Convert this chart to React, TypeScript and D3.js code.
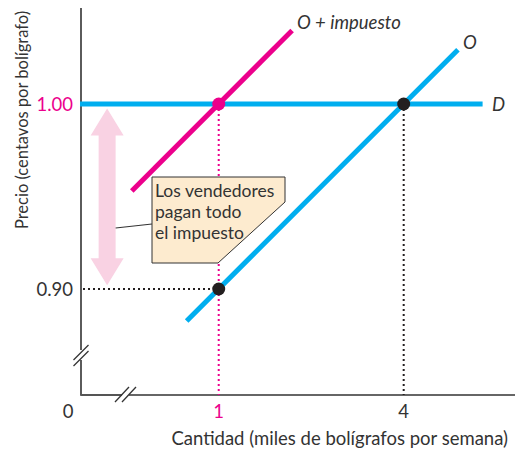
import React from "react";
import * as d3 from "d3";

// ---- data ----
const xTicks = [1, 4];
const xTickLabels = ["1", "4"];
const yTicks = [0.9, 1.0];
const yTickLabels = ["0.90", "1.00"];

// demand (horizontal at 1.00)
const demandQ = [-1.25, 5.28];
const demandP = [1.0, 1.0];
// supply O
const supplyQ = [0.48, 4.88];
const supplyP = [0.8827, 1.0293];
// supply + tax
const taxQ = [-0.41, 2.19];
const taxP = [0.953, 1.0397];

// equilibrium points
const pointQ = [1, 4, 1];
const pointP = [1.0, 1.0, 0.9];
const pointKind = ["tax", "orig", "orig"];

// tax arrow
const arrowQ = -0.81;
const arrowTop = 0.9975;
const arrowBottom = 0.902;

const CYAN = "#00AEEF";
const MAGENTA = "#EC008C";
const PINK = "#F9D2E3";
const DARK = "#231F20";
const TEXT = "#333333";
const FONT = "Lato, 'Open Sans', sans-serif";

export default function App() {
  const W = 516, H = 452;
  const left = 81, bottom = 395, right = 515, top = 8;
  const x = d3.scaleLinear().domain([-1.25, 5.4]).range([80, 490]);
  const y = d3.scaleLinear().domain([0.8427, 1.0535]).range([395, 5]);

  const line = (qs: number[], ps: number[]) =>
    d3.line<number>().x((d) => x(qs[d])).y((d) => y(ps[d]))(qs.map((_, i) => i)) as string;

  // arrow polygon
  const ax = x(arrowQ);
  const aT = y(arrowTop), aB = y(arrowBottom);
  const shaftHW = 8.5, headHW = 16.5, headL = 27;
  const arrowPts = [
    [ax, aT], [ax + headHW, aT + headL], [ax + shaftHW, aT + headL],
    [ax + shaftHW, aB - headL], [ax + headHW, aB - headL], [ax, aB],
    [ax - headHW, aB - headL], [ax - shaftHW, aB - headL], [ax - shaftHW, aT + headL],
    [ax - headHW, aT + headL],
  ].map((p) => p.join(",")).join(" ");

  // callout box
  const bx0 = 152, by0 = 177, bx1 = 285, by1 = 263;
  const boxPts = [[bx0, by0], [bx1, by0], [bx1, 202], [218, by1], [bx0, by1]]
    .map((p) => p.join(",")).join(" ");

  return (
    <svg width={W} height={H} style={{ position: "absolute", left: 0, top: 0, background: "#fff" }}
      fontFamily={FONT}>
      {/* axes */}
      <line x1={left} y1={top} x2={left} y2={350} stroke="#333" strokeWidth={1.6} />
      <line x1={left} y1={360} x2={left} y2={bottom} stroke="#333" strokeWidth={1.6} />
      <line x1={left - 0.8} y1={bottom} x2={122} y2={bottom} stroke="#555" strokeWidth={2} />
      <line x1={129} y1={bottom} x2={right} y2={bottom} stroke="#666" strokeWidth={2} />
      {/* break marks */}
      <line x1={73.5} y1={360} x2={88.5} y2={345} stroke="#333" strokeWidth={1.3} />
      <line x1={73.5} y1={366} x2={88.5} y2={351} stroke="#333" strokeWidth={1.3} />
      <line x1={115} y1={402} x2={129} y2={387} stroke="#333" strokeWidth={1.3} />
      <line x1={122} y1={402} x2={136} y2={387} stroke="#333" strokeWidth={1.3} />

      {/* guide dotted lines */}
      <line x1={x(1)} y1={y(1.0)} x2={x(1)} y2={bottom} stroke={MAGENTA} strokeWidth={2} strokeDasharray="2 3" />
      <line x1={x(4)} y1={y(1.0)} x2={x(4)} y2={bottom} stroke={DARK} strokeWidth={2} strokeDasharray="2 3" />
      <line x1={left + 2} y1={y(0.9)} x2={x(1)} y2={y(0.9)} stroke={DARK} strokeWidth={2} strokeDasharray="2 3" />

      {/* arrow */}
      <polygon points={arrowPts} fill={PINK} />

      {/* lines */}
      <path d={line(demandQ, demandP)} stroke={CYAN} strokeWidth={5} fill="none" />
      <path d={line(supplyQ, supplyP)} stroke={CYAN} strokeWidth={5} fill="none" />
      <path d={line(taxQ, taxP)} stroke={MAGENTA} strokeWidth={5} fill="none" />

      {/* points */}
      {pointQ.map((q, i) => (
        <circle key={i} cx={x(q)} cy={y(pointP[i])} r={6.5}
          fill={pointKind[i] === "tax" ? MAGENTA : DARK} />
      ))}

      {/* callout */}
      <line x1={ax + shaftHW} y1={228} x2={bx0} y2={224} stroke="#333" strokeWidth={1.2} />
      <polygon points={boxPts} fill="#FDEBCF" stroke="#333" strokeWidth={1} />
      <text x={155} y={197} fontSize={17.5} fill={TEXT}>Los vendedores</text>
      <text x={155} y={218} fontSize={17.5} fill={TEXT}>pagan todo</text>
      <text x={155} y={239} fontSize={17.5} fill={TEXT}>el impuesto</text>

      {/* line labels */}
      <text x={297} y={29} fontSize={18.5} fontStyle="italic" fill={TEXT}>O + impuesto</text>
      <text x={463} y={49} fontSize={18.5} fontStyle="italic" fill={TEXT}>O</text>
      <text x={492} y={111} fontSize={18.5} fontStyle="italic" fill={TEXT}>D</text>

      {/* ticks */}
      {yTicks.map((t, i) => (
        <text key={t} x={73} y={y(t)} dy="0.36em" textAnchor="end" fontSize={18.5}
          fill={t === 1.0 ? MAGENTA : TEXT}>{yTickLabels[i]}</text>
      ))}
      {xTicks.map((t, i) => (
        <text key={t} x={x(t)} y={418} textAnchor="middle" fontSize={18.5}
          fill={t === 1 ? MAGENTA : TEXT}>{xTickLabels[i]}</text>
      ))}
      <text x={68} y={418} textAnchor="middle" fontSize={18.5} fill={TEXT}>0</text>

      {/* axis titles */}
      <text x={508} y={445} textAnchor="end" fontSize={18.5} fill={TEXT}>
        Cantidad (miles de bolígrafos por semana)
      </text>
      <text transform="translate(28,120) rotate(-90)" textAnchor="middle" fontSize={16.5} fill={TEXT}>
        Precio (centavos por bolígrafo)
      </text>
    </svg>
  );
}
